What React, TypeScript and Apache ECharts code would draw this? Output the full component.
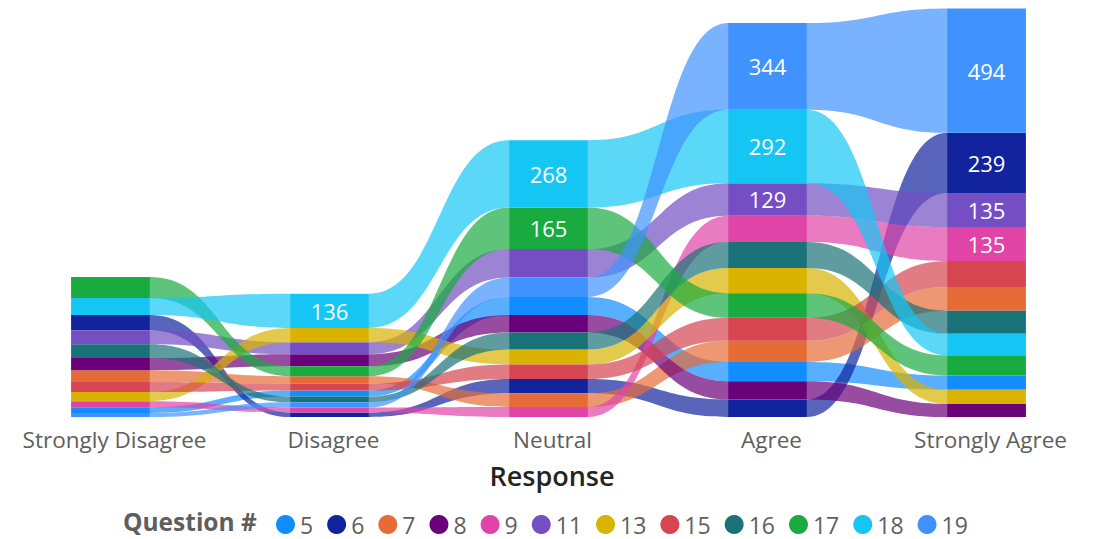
import React, { useEffect, useRef } from 'react';
import * as echarts from 'echarts';

const CATEGORIES = ['Strongly Disagree', 'Disagree', 'Neutral', 'Agree', 'Strongly Agree'];
const QUESTIONS = ['5', '6', '7', '8', '9', '11', '13', '15', '16', '17', '18', '19'];
const COLORS = ['#118DFF', '#12239E', '#E66C37', '#6B007B', '#E044A7', '#744EC2', '#D9B300', '#D64550', '#197278', '#1AAB40', '#15C6F4', '#4092FF'];

// values per question, in category order: SD, D, N, A, SA
const q5 = [23, 24, 72, 77, 57];
const q6 = [60, 18, 57, 70, 239];
const q7 = [47, 29, 54, 84, 95];
const q8 = [48, 47, 69, 72, 52];
const q9 = [24, 20, 40, 105, 135];
const q11 = [56, 48, 113, 129, 135];
const q13 = [36, 57, 59, 100, 56];
const q15 = [40, 28, 58, 91, 103];
const q16 = [55, 22, 68, 103, 91];
const q17 = [83, 40, 165, 98, 80];
const q18 = [68, 136, 268, 292, 86];
const q19 = [16, 21, 77, 344, 494];
const VALUES = [q5, q6, q7, q8, q9, q11, q13, q15, q16, q17, q18, q19];

const Y_MAX = 1625;
const LABEL_MIN = 120;
const FONT = '"Open Sans", "Noto Sans", sans-serif';

function buildStacks() {
  const bottoms = CATEGORIES.map(() => new Array(QUESTIONS.length).fill(0));
  const tops = CATEGORIES.map(() => new Array(QUESTIONS.length).fill(0));
  CATEGORIES.forEach((_, c) => {
    const order = QUESTIONS.map((_, i) => i).sort((a, b) => {
      const d = VALUES[a][c] - VALUES[b][c];
      return d !== 0 ? d : a - b;
    });
    let acc = 0;
    order.forEach((i) => {
      bottoms[c][i] = acc;
      acc += VALUES[i][c];
      tops[c][i] = acc;
    });
  });
  return { bottoms, tops };
}

export default function App() {
  const ref = useRef<HTMLDivElement>(null);
  useEffect(() => {
    if (!ref.current) return;
    const chart = echarts.init(ref.current, undefined, { renderer: 'svg' });
    const { bottoms, tops } = buildStacks();
    const last = CATEGORIES.length - 1;
    const series = QUESTIONS.map((q, qi) => {
      const color = COLORS[qi];
      const data = CATEGORIES.map((_, c) => [
        c,
        bottoms[c][qi],
        tops[c][qi],
        c < last ? bottoms[c + 1][qi] : 0,
        c < last ? tops[c + 1][qi] : 0,
        VALUES[qi][c],
      ]);
      return {
        type: 'custom',
        name: q,
        silent: true,
        itemStyle: { color },
        encode: { x: 0, y: 2 },
        data,
        renderItem: (params: any, api: any) => {
          const c = api.value(0);
          const b = api.coord([c, api.value(1)]);
          const t = api.coord([c, api.value(2)]);
          const band = api.size([1, 0])[0];
          const bw = band * 0.36;
          const children: any[] = [];
          if (c < last) {
            const nb = api.coord([c + 1, api.value(3)]);
            const nt = api.coord([c + 1, api.value(4)]);
            const x1 = b[0] + bw / 2;
            const x2 = nb[0] - bw / 2;
            const xm = (x1 + x2) / 2;
            const d = `M${x1},${t[1]} C${xm},${t[1]} ${xm},${nt[1]} ${x2},${nt[1]} L${x2},${nb[1]} C${xm},${nb[1]} ${xm},${b[1]} ${x1},${b[1]} Z`;
            children.push({ type: 'path', shape: { pathData: d }, style: { fill: color, opacity: 0.7 } });
          }
          children.push({
            type: 'rect',
            shape: { x: b[0] - bw / 2, y: t[1], width: bw, height: b[1] - t[1] },
            style: { fill: color },
          });
          const v = api.value(5);
          if (v >= LABEL_MIN) {
            children.push({
              type: 'text',
              x: b[0],
              y: (b[1] + t[1]) / 2,
              style: { text: String(v), fill: '#ffffff', font: `22px ${FONT}`, align: 'center', verticalAlign: 'middle' },
            });
          }
          return { type: 'group', children };
        },
      };
    });
    chart.setOption({
      animation: false,
      backgroundColor: '#ffffff',
      grid: { left: 1, right: 0, top: 8, bottom: 122 },
      xAxis: {
        type: 'category',
        data: CATEGORIES,
        axisLine: { show: false },
        axisTick: { show: false },
        axisLabel: { interval: 0, color: '#605E5C', fontSize: 22.5, fontFamily: FONT, margin: 11, padding: [0, 0, 0, 8] },
        name: 'Response',
        nameLocation: 'middle',
        nameGap: 45,
        nameTextStyle: { color: '#252423', fontSize: 27, fontWeight: 600, fontFamily: FONT, padding: [0, 0, 0, 7] },
      },
      yAxis: { type: 'value', min: 0, max: Y_MAX, show: false },
      legend: {
        data: QUESTIONS,
        left: 276,
        top: 513,
        padding: 0,
        icon: 'circle',
        itemWidth: 19,
        itemHeight: 19,
        itemGap: 14,
        textStyle: { color: '#605E5C', fontSize: 23, fontFamily: FONT },
        selectedMode: false,
      },
      graphic: [
        {
          type: 'text',
          left: 123,
          top: 509,
          style: { text: 'Question #', fill: '#605E5C', font: `bold 24.5px ${FONT}` },
        },
      ],
      series,
    });
    return () => chart.dispose();
  }, []);
  return <div ref={ref} style={{ position: 'fixed', left: 0, top: 0, width: 1096, height: 539 }} />;
}
